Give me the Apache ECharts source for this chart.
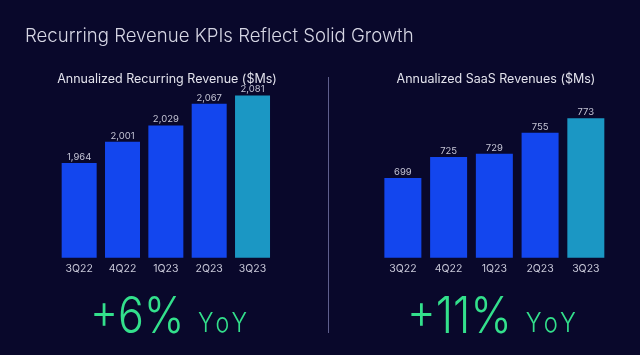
<!DOCTYPE html>
<html>
<head>
<meta charset="utf-8">
<style>
html,body{margin:0;padding:0;background:#09082b;}
#chart{width:640px;height:355px;}
</style>
<script src="https://cdn.jsdelivr.net/npm/echarts@6/dist/echarts.min.js"></script>
</head>
<body>
<div id="chart"></div>
<script>
const categories = ['3Q22', '4Q22', '1Q23', '2Q23', '3Q23'];
const arrValues = [1964, 2001, 2029, 2067, 2081];
const saasValues = [699, 725, 729, 755, 773];
const mainTitle = 'Recurring Revenue KPIs Reflect Solid Growth';
const leftTitle = 'Annualized Recurring Revenue ($Ms)';
const rightTitle = 'Annualized SaaS Revenues ($Ms)';
const leftGrowth = '+6%';
const rightGrowth = '+11%';
const yoyText = 'YoY';

const BLUE = '#1346ee';
const TEAL = '#1b97c4';
const BG = '#09082b';
const GREEN = '#33e08c';

function barData(vals) {
  return vals.map((v, i) => ({
    value: v,
    itemStyle: { color: i === vals.length - 1 ? TEAL : BLUE }
  }));
}

const chart = echarts.init(document.getElementById('chart'));
const labelStyle = { show: true, position: 'top', distance: 1, color: '#c4c4d4', fontSize: 9.5, fontFamily: 'Inter',
  formatter: p => p.value.toLocaleString('en-US') };
const xAxisCommon = {
  type: 'category', data: categories,
  axisLine: { show: false }, axisTick: { show: false },
  axisLabel: { color: '#c8c8d8', fontSize: 10.5, fontFamily: 'Inter', margin: 6 }
};
const yAxisCommon = { type: 'value', show: false, splitLine: { show: false } };
const bigRich = {
  a: { fontSize: 50, fontWeight: 300, fontFamily: 'Inter', fill: GREEN },
  b: { fontSize: 27, fontWeight: 300, fontFamily: 'Inter', fill: GREEN, padding: [11, 0, 0, 16] }
};
const yoyRich = yoyText.split('').join('\u200A');

chart.setOption({
  backgroundColor: BG,
  animation: false,
  title: [
    { text: mainTitle, left: 20, top: 22, textStyle: { color: '#d6d6e4', fontSize: 18.6, fontWeight: 300, fontFamily: 'Inter' } },
    { text: leftTitle, left: 162, textAlign: 'center', top: 68, textStyle: { color: '#e2e2ec', fontSize: 12.5, fontWeight: 'normal', fontFamily: 'Inter' } },
    { text: rightTitle, left: 491, textAlign: 'center', top: 68, textStyle: { color: '#e2e2ec', fontSize: 12.5, fontWeight: 'normal', fontFamily: 'Inter' } }
  ],
  grid: [
    { left: 57.5, width: 216.7, top: 84.6, height: 173.1 },
    { left: 380, width: 228.7, top: 96.6, height: 161.1 }
  ],
  xAxis: [
    Object.assign({ gridIndex: 0 }, xAxisCommon),
    Object.assign({ gridIndex: 1 }, xAxisCommon)
  ],
  yAxis: [
    Object.assign({ gridIndex: 0, min: 1800, max: 2100 }, yAxisCommon),
    Object.assign({ gridIndex: 1, min: 600, max: 800 }, yAxisCommon)
  ],
  series: [
    { type: 'bar', xAxisIndex: 0, yAxisIndex: 0, data: barData(arrValues), barWidth: 35, label: labelStyle },
    { type: 'bar', xAxisIndex: 1, yAxisIndex: 1, data: barData(saasValues), barWidth: 37, label: labelStyle }
  ],
  graphic: [
    { type: 'line', shape: { x1: 328.5, y1: 77, x2: 328.5, y2: 333 }, style: { stroke: '#5e5e8c', lineWidth: 1 } },
    { type: 'text', x: 90, y: 293, scaleX: 0.86, style: {
      text: '{a|' + leftGrowth + '}{b|' + yoyRich + '}', rich: bigRich, verticalAlign: 'top'
    } },
    { type: 'text', x: 407, y: 293, scaleX: 0.88, style: {
      text: '{a|' + rightGrowth + '}{b|' + yoyRich + '}', rich: bigRich, verticalAlign: 'top'
    } }
  ]
});
</script>
</body>
</html>
